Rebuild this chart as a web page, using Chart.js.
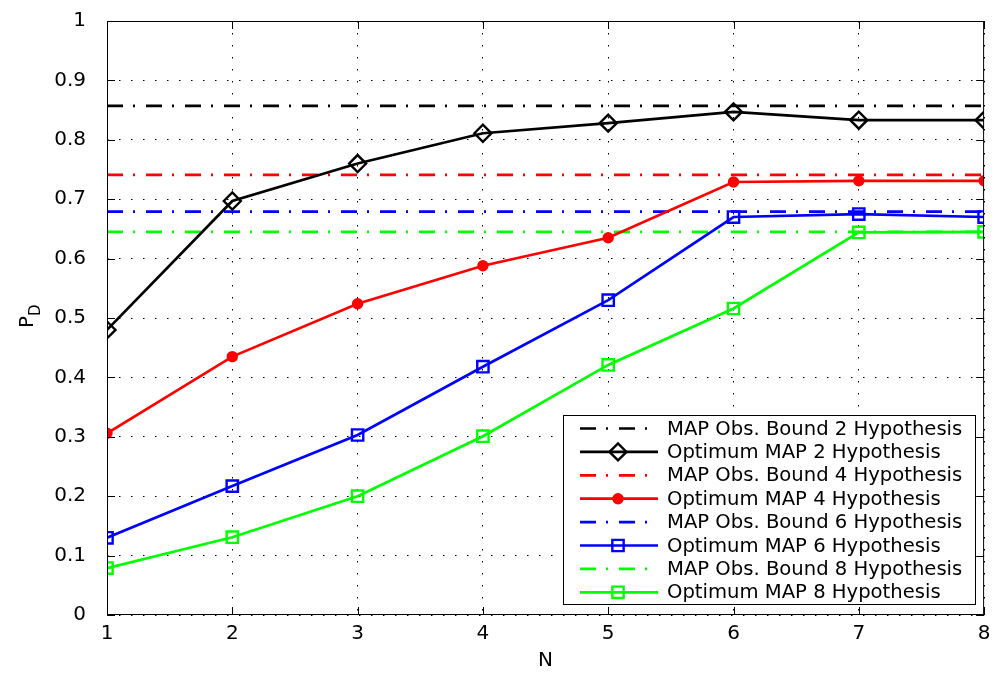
<!DOCTYPE html>
<html>
<head>
<meta charset="utf-8">
<script src="https://cdn.jsdelivr.net/npm/chart.js@4"></script>
<style>
  body { margin: 0; background: #fff; }
  canvas { display: block; }
</style>
</head>
<body>
<canvas id="pdChart" width="995" height="673"></canvas>
<script>
(() => {

    // N values on the x axis
    const nValues = [1, 2, 3, 4, 5, 6, 7, 8];

    // MAP observation bounds (flat lines)
    const bound2 = 0.857;
    const bound4 = 0.741;
    const bound6 = 0.679;
    const bound8 = 0.645;

    // optimum MAP detection probability
    const optimum2 = [0.480, 0.697, 0.760, 0.811, 0.828, 0.847, 0.833, 0.833];
    const optimum4 = [0.306, 0.435, 0.524, 0.588, 0.635, 0.729, 0.731, 0.731];
    const optimum6 = [0.130, 0.217, 0.303, 0.418, 0.530, 0.670, 0.675, 0.670];
    const optimum8 = [0.079, 0.131, 0.200, 0.301, 0.421, 0.516, 0.644, 0.645];

    const legendLabels = [
        'MAP Obs. Bound 2 Hypothesis',
        'Optimum MAP 2 Hypothesis',
        'MAP Obs. Bound 4 Hypothesis',
        'Optimum MAP 4 Hypothesis',
        'MAP Obs. Bound 6 Hypothesis',
        'Optimum MAP 6 Hypothesis',
        'MAP Obs. Bound 8 Hypothesis',
        'Optimum MAP 8 Hypothesis'
    ];

    const FONT = '"DejaVu Sans", sans-serif';
    const DASHDOT = [16, 10, 2, 11];

    const toPoints = values => nValues.map((n, i) => ({ x: n, y: values[i] }));
    const flat = value => [{ x: nValues[0], y: value }, { x: nValues[nValues.length - 1], y: value }];

    function boundSet(label, value, color) {
        return {
            label: label,
            data: flat(value),
            borderColor: color,
            borderWidth: 2.7,
            borderDash: DASHDOT,
            pointRadius: 0,
            fill: false
        };
    }

    function optimumSet(label, values, color, style, radius, filled) {
        return {
            label: label,
            data: toPoints(values),
            borderColor: color,
            borderWidth: 2.7,
            pointStyle: style,
            pointRadius: radius,
            pointBorderWidth: 2.4,
            pointBorderColor: color,
            pointBackgroundColor: filled ? color : 'rgba(0,0,0,0)',
            fill: false
        };
    }

    const datasets = [
        boundSet(legendLabels[0], bound2, '#000000'),
        optimumSet(legendLabels[1], optimum2, '#000000', 'rectRot', 8.5, false),
        boundSet(legendLabels[2], bound4, '#ff0000'),
        optimumSet(legendLabels[3], optimum4, '#ff0000', 'circle', 4.5, true),
        boundSet(legendLabels[4], bound6, '#0000ff'),
        optimumSet(legendLabels[5], optimum6, '#0000ff', 'rect', 8, false),
        boundSet(legendLabels[6], bound8, '#00ff00'),
        optimumSet(legendLabels[7], optimum8, '#00ff00', 'rect', 8, false)
    ];

    // box, inward ticks, axis titles and the legend drawn matlab style
    const matlabFrame = {
        id: 'matlabFrame',
        afterDraw(chart) {
            const { ctx, chartArea: a, scales } = chart;
            ctx.save();
            ctx.setLineDash([]);
            ctx.strokeStyle = '#000';
            ctx.lineWidth = 1;
            ctx.strokeRect(a.left + 0.5, a.top + 0.5, a.right - a.left - 1, a.bottom - a.top - 1);

            ctx.beginPath();
            scales.x.ticks.forEach(t => {
                const px = Math.round(scales.x.getPixelForValue(t.value)) + 0.5;
                ctx.moveTo(px, a.bottom); ctx.lineTo(px, a.bottom - 8);
                ctx.moveTo(px, a.top); ctx.lineTo(px, a.top + 8);
            });
            scales.y.ticks.forEach(t => {
                const py = Math.round(scales.y.getPixelForValue(t.value)) + 0.5;
                ctx.moveTo(a.left, py); ctx.lineTo(a.left + 8, py);
                ctx.moveTo(a.right, py); ctx.lineTo(a.right - 8, py);
            });
            ctx.stroke();

            // axis titles
            ctx.fillStyle = '#000';
            ctx.font = '20px ' + FONT;
            ctx.textAlign = 'center';
            ctx.textBaseline = 'middle';
            ctx.fillText('N', (a.left + a.right) / 2, 661);

            ctx.save();
            ctx.translate(26, (a.top + a.bottom) / 2);
            ctx.rotate(-Math.PI / 2);
            ctx.textAlign = 'left';
            ctx.textBaseline = 'alphabetic';
            ctx.font = '20px ' + FONT;
            const pw = ctx.measureText('P').width;
            ctx.fillText('P', -10, 7);
            ctx.font = '15px ' + FONT;
            ctx.fillText('D', -10 + pw, 14);
            ctx.restore();

            // legend
            const box = { x: 563.5, y: 415.5, w: 412, h: 189 };
            ctx.fillStyle = '#fff';
            ctx.fillRect(box.x, box.y, box.w, box.h);
            ctx.strokeStyle = '#000';
            ctx.lineWidth = 1;
            ctx.strokeRect(box.x, box.y, box.w, box.h);

            const rowH = 23.4;
            chart.data.datasets.forEach((ds, i) => {
                const cy = box.y + 13 + i * rowH;
                ctx.save();
                ctx.strokeStyle = ds.borderColor;
                ctx.lineWidth = ds.borderWidth;
                ctx.setLineDash(ds.borderDash || []);
                ctx.beginPath();
                ctx.moveTo(580, cy);
                ctx.lineTo(658, cy);
                ctx.stroke();
                ctx.restore();
                if (ds.pointRadius > 0) {
                    ctx.save();
                    ctx.strokeStyle = ds.pointBorderColor;
                    ctx.fillStyle = ds.pointBackgroundColor;
                    ctx.lineWidth = ds.pointBorderWidth;
                    Chart.helpers.drawPoint(ctx, { pointStyle: ds.pointStyle, radius: ds.pointRadius, borderWidth: ds.pointBorderWidth }, 618, cy);
                    ctx.restore();
                }
                ctx.fillStyle = '#000';
                ctx.font = '19.6px ' + FONT;
                ctx.textAlign = 'left';
                ctx.textBaseline = 'middle';
                ctx.fillText(ds.label, 667, cy + 1);
            });
            ctx.restore();
        }
    };

    const ctx = document.getElementById('pdChart').getContext('2d');
    new Chart(ctx, {
        type: 'line',
        data: { datasets: datasets },
        plugins: [matlabFrame],
        options: {
            responsive: false,
            animation: false,
            layout: { padding: { top: 21, right: 8, left: 0, bottom: 0 } },
            plugins: {
                legend: { display: false },
                tooltip: { enabled: false }
            },
            elements: { line: { tension: 0 } },
            scales: {
                x: {
                    type: 'linear',
                    min: 1,
                    max: 8,
                    ticks: {
                        stepSize: 1,
                        color: '#000',
                        padding: 7,
                        font: { family: FONT, size: 20 }
                    },
                    grid: { color: '#000', lineWidth: 1, drawTicks: false },
                    border: { display: false, dash: [1.5, 10.5] },
                    afterFit(scale) {
                        scale.height = 58;
                        scale.paddingLeft = 0;
                        scale.paddingRight = 0;
                    }
                },
                y: {
                    min: 0,
                    max: 1,
                    ticks: {
                        stepSize: 0.1,
                        color: '#000',
                        padding: 21,
                        font: { family: FONT, size: 20 },
                        callback: v => String(+v.toFixed(1))
                    },
                    grid: { color: '#000', lineWidth: 1, drawTicks: false },
                    border: { display: false, dash: [1.5, 10.5] },
                    afterFit(scale) {
                        scale.width = 107;
                        scale.paddingTop = 0;
                        scale.paddingBottom = 0;
                    }
                }
            }
        }
    });
})();
</script>
</body>
</html>
